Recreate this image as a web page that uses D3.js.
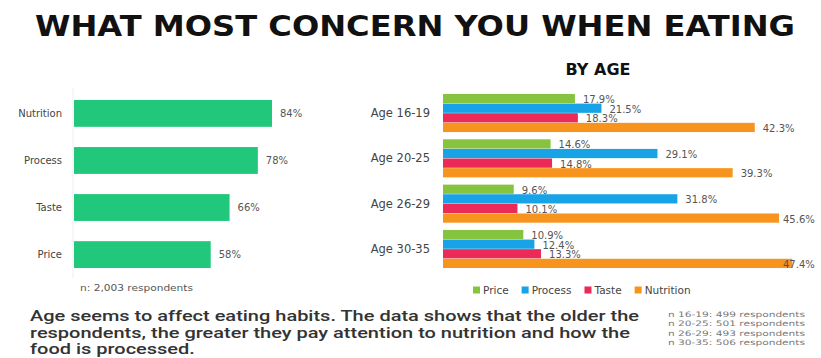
<!DOCTYPE html>
<html><head><meta charset="utf-8">
<script src="https://cdn.jsdelivr.net/npm/d3@7"></script>
<style>body{margin:0;background:#fff}svg{display:block}</style>
</head><body>
<svg id="c" width="821" height="358"></svg>
<script>
const titleText = "WHAT MOST CONCERN YOU WHEN EATING";
const overallCats = ["Nutrition", "Process", "Taste", "Price"];
const overallVals = [84, 78, 66, 58];
const overallNote = "n: 2,003 respondents";

const ageTitle = "BY AGE";
const ageGroups = ["Age 16-19", "Age 20-25", "Age 26-29", "Age 30-35"];
const seriesNames = ["Price", "Process", "Taste", "Nutrition"];
const priceVals = [17.9, 14.6, 9.6, 10.9];
const processVals = [21.5, 29.1, 31.8, 12.4];
const tasteVals = [18.3, 14.8, 10.1, 13.3];
const nutritionVals = [42.3, 39.3, 45.6, 47.4];
const seriesColors = ["#86c440", "#17a3e6", "#ec2a57", "#f7941e"];

const paragraph = [
  "Age seems to affect eating habits. The data shows that the older the",
  "respondents, the greater they pay attention to nutrition and how the",
  "food is processed."
];
const sampleNotes = [
  "n 16-19: 499 respondents",
  "n 20-25: 501 respondents",
  "n 26-29: 493 respondents",
  "n 30-35: 506 respondents"
];

const svg = d3.select("#c");
const W = 821;

// Title
svg.append("text").attr("x", 35).attr("y", 36)
  .attr("font-family", "DejaVu Sans").attr("font-weight", "bold")
  .attr("font-size", 29).attr("fill", "#111")
  .attr("textLength", 760).attr("lengthAdjust", "spacingAndGlyphs")
  .text(titleText);

// ---- Left chart ----
const xL = d3.scaleLinear().domain([0, 100]).range([74, 309.7]);
const yL = d3.scaleBand().domain(overallCats).range([100, 268]).paddingInner(0.43).paddingOuter(0);

svg.append("line").attr("x1", xL(0) - 1).attr("x2", xL(0) - 1)
  .attr("y1", 88).attr("y2", 278).attr("stroke", "#eeeeee").attr("stroke-width", 1);

const left = svg.append("g");
left.selectAll("rect").data(overallCats).join("rect")
  .attr("x", xL(0)).attr("y", d => yL(d))
  .attr("width", (d, i) => xL(overallVals[i]) - xL(0))
  .attr("height", yL.bandwidth()).attr("fill", "#21c77b");
left.selectAll("text.cat").data(overallCats).join("text").attr("class", "cat")
  .attr("x", 62).attr("y", d => yL(d) + yL.bandwidth() / 2)
  .attr("dy", "0.35em").attr("text-anchor", "end")
  .attr("font-family", "DejaVu Sans").attr("font-size", 10).attr("fill", "#444")
  .text(d => d);
left.selectAll("text.val").data(overallCats).join("text").attr("class", "val")
  .attr("x", (d, i) => xL(overallVals[i]) + 8).attr("y", d => yL(d) + yL.bandwidth() / 2)
  .attr("dy", "0.35em")
  .attr("font-family", "DejaVu Sans").attr("font-size", 10).attr("fill", "#555")
  .text((d, i) => overallVals[i] + "%");
svg.append("text").attr("x", 80).attr("y", 291)
  .attr("font-family", "DejaVu Sans").attr("font-size", 8).attr("fill", "#555")
  .attr("textLength", 113).attr("lengthAdjust", "spacingAndGlyphs")
  .text(overallNote);

// ---- Right chart ----
svg.append("text").attr("x", 598).attr("y", 75).attr("text-anchor", "middle")
  .attr("font-family", "DejaVu Sans").attr("font-weight", "bold")
  .attr("font-size", 16).attr("fill", "#111").text(ageTitle);

const seriesVals = [priceVals, processVals, tasteVals, nutritionVals];
const xR = d3.scaleLinear().domain([0, 50]).range([443, 811.5]);
const yR = d3.scaleBand().domain(ageGroups).range([94, 268]).paddingInner(0.16).paddingOuter(0);
const yS = d3.scaleBand().domain(seriesNames).range([0, yR.bandwidth()]).paddingInner(0.04);

const groups = svg.append("g").selectAll("g").data(ageGroups).join("g")
  .attr("transform", d => `translate(0,${yR(d)})`);
groups.append("text")
  .attr("x", 430).attr("y", yR.bandwidth() / 2).attr("dy", "0.35em")
  .attr("text-anchor", "end").attr("font-family", "DejaVu Sans")
  .attr("font-size", 11.5).attr("fill", "#444").text(d => d);

seriesNames.forEach((s, si) => {
  groups.append("rect")
    .attr("x", xR(0)).attr("y", yS(s))
    .attr("width", (d, gi) => xR(seriesVals[si][gi]) - xR(0))
    .attr("height", yS.bandwidth()).attr("fill", seriesColors[si]);
});
seriesNames.forEach((s, si) => {
  groups.append("text")
    .attr("x", (d, gi) => Math.min(xR(seriesVals[si][gi]) + 8, W - 38))
    .attr("y", yS(s) + yS.bandwidth() / 2 + 1).attr("dy", "0.35em")
    .attr("font-family", "DejaVu Sans").attr("font-size", 10).attr("fill", "#555")
    .text((d, gi) => seriesVals[si][gi] + "%");
});

// Legend
const legend = svg.append("g").attr("transform", "translate(473,290)");
let lx = 0;
seriesNames.forEach((s, si) => {
  const g = legend.append("g").attr("transform", `translate(${lx},0)`);
  g.append("rect").attr("x", 0).attr("y", -3.5).attr("width", 7).attr("height", 7).attr("fill", seriesColors[si]);
  const t = g.append("text").attr("x", 10).attr("y", 0).attr("dy", "0.35em")
    .attr("font-family", "DejaVu Sans").attr("font-size", 10.5).attr("fill", "#444").text(s);
  lx += 10 + t.node().getComputedTextLength() + 13;
});

// Paragraph
const para = svg.append("g");
const pLines = para.selectAll("text").data(paragraph).join("text")
  .attr("x", 30).attr("y", (d, i) => 321 + i * 16.5)
  .attr("font-family", "Roboto").attr("font-weight", 500)
  .attr("font-size", 15).attr("fill", "#333").text(d => d);
const natural = pLines.nodes().map(n => n.getComputedTextLength());
const ratio = 609 / natural[0];
pLines.attr("textLength", (d, i) => natural[i] * ratio).attr("lengthAdjust", "spacingAndGlyphs");

// Sample notes
svg.append("g").selectAll("text").data(sampleNotes).join("text")
  .attr("x", 668).attr("y", (d, i) => 314 + i * 9.5).attr("dy", "0.35em")
  .attr("font-family", "DejaVu Sans").attr("font-size", 7.5).attr("fill", "#777")
  .attr("textLength", 137).attr("lengthAdjust", "spacingAndGlyphs")
  .text(d => d);
</script>
</body></html>
